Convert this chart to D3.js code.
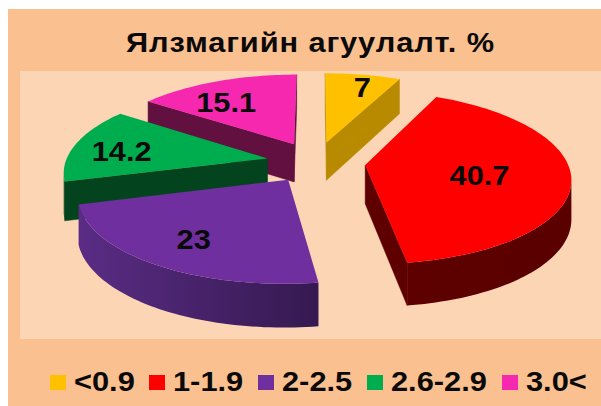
<!DOCTYPE html>
<html><head><meta charset="utf-8">
<script src="https://cdn.jsdelivr.net/npm/d3@7"></script>
<style>html,body{margin:0;padding:0;background:#fff}svg{display:block}text{font-family:"Liberation Sans",Arial,sans-serif;font-weight:bold;fill:#0a0a0a}</style>
</head><body><script>
const titleText = "Ялзмагийн агуулалт. %";
const categories = ["<0.9","1-1.9","2-2.5","2.6-2.9","3.0<"];
const values = [7,40.7,23,14.2,15.1];
const topColors = ["#FFC000","#FF0000","#6F2F9F","#00AD4E","#F728B0"];
const wallColors = ["#B88A00","#5E0000","#5A2C85","#03441F","#621040"];
const wallDark = ["#B88A00","#5A0000","#351950","#03441F","#621040"];
const labelFractions = [0.8,0.55,0.75,0.73,0.85];
const labelNudgeX = [6,2,2,-5,-1];
const labelNudgeY = [0,3,-2,3,12];
const drawOrder = [0,4,3,1,2];
const legendX = [50,149,258,367,502];

const W=601,H=406;
const svg=d3.select("body").append("svg").attr("width",W).attr("height",H);
const defs=svg.append("defs");
svg.append("rect").attr("x",8).attr("y",9).attr("width",W-8).attr("height",H-9).attr("fill","#FAC090");
svg.append("rect").attr("x",20).attr("y",71).attr("width",W-20).attr("height",268).attr("fill","#FCD5B5");

// perspective projection of the exploded 3D pie
const cx=316,cy=162,R=202,RY=84,p=0.14,pd=0.1,depth=38.5,explode=0.245;
const project=(X,Y,z)=>{
  const w=1/(1-p*Y), wd=1/(1-pd*Y);
  return [cx+R*X*w, cy+RY*Y*w+z*depth*wd];
};
const pie=d3.pie().sort(null).value(d=>d)(values);
const line=d3.line();
const g=svg.append("g");

drawOrder.forEach(i=>{
  const s=pie[i], mid=(s.startAngle+s.endAngle)/2;
  const ox=explode*Math.sin(mid), oy=-explode*Math.cos(mid);
  const pt=(a,f,z)=>project(ox+f*Math.sin(a),oy-f*Math.cos(a),z);
  const n=Math.max(8,Math.round((s.endAngle-s.startAngle)*40));
  const angles=d3.range(n+1).map(k=>s.startAngle+(s.endAngle-s.startAngle)*k/n);
  const quad=(a,c)=>{
    // keep only walls that face the viewer
    if(d3.polygonArea(a)<0) return;
    g.append("path").attr("d",line(a)+"Z").attr("fill",c).attr("stroke",c).attr("stroke-width",0.5);
  };
  quad([pt(s.startAngle,0,0),pt(s.startAngle,1,0),pt(s.startAngle,1,1),pt(s.startAngle,0,1)],wallColors[i]);
  quad([pt(s.endAngle,1,0),pt(s.endAngle,0,0),pt(s.endAngle,0,1),pt(s.endAngle,1,1)],wallColors[i]);
  // outer curved wall: one path over the front-facing stretch of the arc, with a gradient
  const front=d3.pairs(angles).filter(([a,b])=>d3.polygonArea([pt(a,1,0),pt(b,1,0),pt(b,1,1),pt(a,1,1)])>0);
  if(front.length){
    const arc=[front[0][0]].concat(front.map(d=>d[1]));
    const poly=arc.map(a=>pt(a,1,0)).concat(arc.slice().reverse().map(a=>pt(a,1,1)));
    const x1=pt(arc[0],1,0)[0], x2=pt(arc[arc.length-1],1,0)[0];
    const gr=defs.append("linearGradient").attr("id","wall"+i).attr("gradientUnits","userSpaceOnUse")
      .attr("x1",x1).attr("x2",x2).attr("y1",0).attr("y2",0);
    gr.append("stop").attr("offset",0).attr("stop-color",wallDark[i]);
    gr.append("stop").attr("offset",1).attr("stop-color",wallColors[i]);
    g.append("path").attr("d",line(poly)+"Z").attr("fill",`url(#wall${i})`);
  }
  const top=[pt(0,0,0)].concat(angles.map(a=>pt(a,1,0)));
  g.append("path").attr("d",line(top)+"Z").attr("fill",topColors[i]);
});

const stretched=(x,y)=>`translate(${x},${y}) scale(1.1,1)`;
pie.forEach((s,i)=>{
  const mid=(s.startAngle+s.endAngle)/2, f=explode+labelFractions[i];
  const [x,y]=project(f*Math.sin(mid),-f*Math.cos(mid),0);
  svg.append("text").attr("transform",stretched(x+labelNudgeX[i],y+labelNudgeY[i])).attr("text-anchor","middle").attr("dominant-baseline","central")
    .style("font-size","28px").text(values[i]);
});

svg.append("text").attr("transform",stretched(310.5,52)).attr("text-anchor","middle")
  .style("font-size","28px").style("letter-spacing","0.8px").text(titleText);

categories.forEach((c,i)=>{
  svg.append("rect").attr("x",legendX[i]).attr("y",375).attr("width",16).attr("height",15).attr("fill",topColors[i]);
  svg.append("text").attr("transform",stretched(legendX[i]+24,391)).style("font-size","28px").text(c);
});
</script></body></html>
